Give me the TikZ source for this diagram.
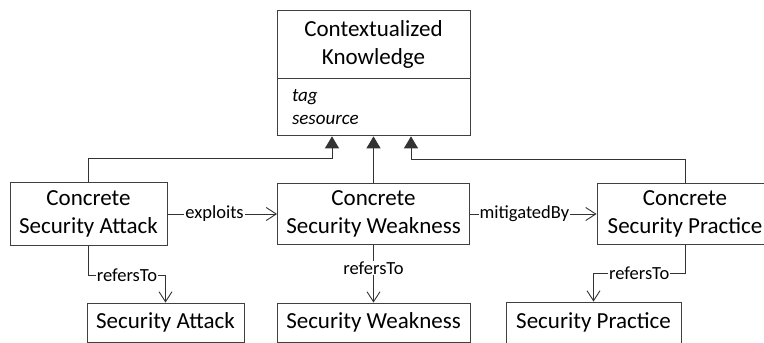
\documentclass[tikz,border=0pt]{standalone}
\usepackage{fontspec}
\setmainfont{Carlito}
\usetikzlibrary{arrows.meta}
\usetikzlibrary{positioning}

\begin{document}
\begin{tikzpicture}[x=1pt, y=-1pt,
  klasse/.style={draw=black!75, line width=0.9pt, align=center, inner sep=0pt,
    font=\fontsize{23}{28}\selectfont},
  erbt/.style={draw=black!80, line width=0.9pt, -{Triangle[length=12pt,width=14pt]}},
  bez/.style={draw=black!80, line width=0.9pt,
    -{Straight Barb[length=10pt,width=13pt,line width=0.9pt]}},
  lbl/.style={fill=white, inner sep=1pt, font=\fontsize{18.5}{22}\selectfont}]
  \useasboundingbox (0,0) rectangle (764,343);

  % Oberklasse mit Attributen
  \node[klasse, minimum width=193pt, minimum height=68pt] (ck) at (373.5,44) {Contextualized\\Knowledge};
  \node[klasse, minimum width=193pt, minimum height=57pt, anchor=north, align=left,
    text width=163pt, font=\itshape\fontsize{19}{23}\selectfont] (ckattr) at (ck.south) {tag\\sesource};

  % konkrete Klassen
  \node[klasse, minimum width=157pt, minimum height=63pt] (csa) at (88.5,214) {Concrete\\Security Attack};
  \node[klasse, minimum width=192pt, minimum height=61pt] (csw) at (373.5,214) {Concrete\\Security Weakness};
  \node[klasse, minimum width=176pt, minimum height=61pt] (csp) at (685,214) {Concrete\\Security Practice};

  \node[klasse, minimum width=157pt, minimum height=39pt] (sa) at (165.5,322.5) {Security Attack};
  \node[klasse, minimum width=193pt, minimum height=39pt] (sw) at (373.5,322.5) {Security Weakness};
  \node[klasse, minimum width=175pt, minimum height=41pt] (sp) at (593.5,322.5) {Security Practice};

  % Vererbung
  \draw[erbt] (csa.north) -- ++(0,-24) -| ([xshift=-41.5pt]ckattr.south);
  \draw[erbt] (csw.north) -- (ckattr.south);
  \draw[erbt] (csp.north) -- ++(0,-24) -| ([xshift=37.5pt]ckattr.south);

  % Beziehungen
  \draw[bez] (csa.east) -- node[lbl, pos=0.43] {exploits} (csw.west);
  \draw[bez] (csw.east) -- node[lbl, pos=0.43] {mitigatedBy} (csp.west);
  \draw[bez] (csa.south) -- ++(0,29) -| node[lbl, pos=0.25] {refersTo} (sa.north);
  \draw[bez] (csw.south) -- node[lbl, pos=0.4] {refersTo} (sw.north);
  \draw[bez] (csp.south) -- ++(0,28) -| node[lbl, pos=0.25] {refersTo} (sp.north);
\end{tikzpicture}
\end{document}
